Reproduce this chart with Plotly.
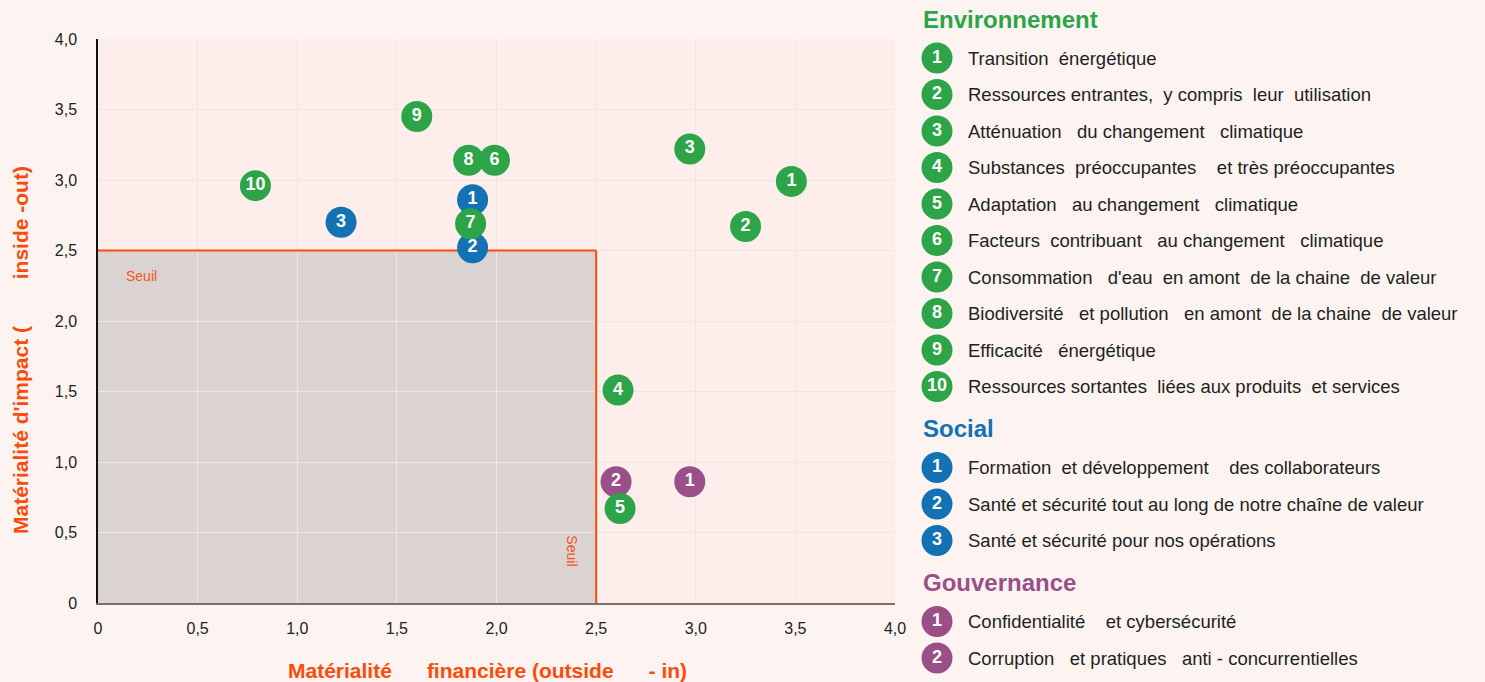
import plotly.graph_objects as go

# --- data ---
seuil = 2.5

env_x = [3.48, 3.25, 2.97, 2.61, 2.62, 1.99, 1.87, 1.86, 1.60, 0.79]
env_y = [2.99, 2.67, 3.22, 1.51, 0.67, 3.14, 2.69, 3.14, 3.45, 2.96]
env_labels = ["Transition  énergétique",
              "Ressources entrantes,  y compris  leur  utilisation",
              "Atténuation   du changement   climatique",
              "Substances  préoccupantes    et très préoccupantes",
              "Adaptation   au changement   climatique",
              "Facteurs  contribuant   au changement   climatique",
              "Consommation   d'eau  en amont  de la chaine  de valeur",
              "Biodiversité   et pollution   en amont  de la chaine  de valeur",
              "Efficacité   énergétique",
              "Ressources sortantes  liées aux produits  et services"]

soc_x = [1.88, 1.88, 1.22]
soc_y = [2.86, 2.52, 2.70]
soc_labels = ["Formation  et développement    des collaborateurs",
              "Santé et sécurité tout au long de notre chaîne de valeur",
              "Santé et sécurité pour nos opérations"]

gov_x = [2.97, 2.60]
gov_y = [0.86, 0.86]
gov_labels = ["Confidentialité    et cybersécurité",
              "Corruption   et pratiques   anti - concurrentielles"]

tick_vals = [0, 0.5, 1, 1.5, 2, 2.5, 3, 3.5, 4]
tick_text = ["0", "0,5", "1,0", "1,5", "2,0", "2,5", "3,0", "3,5", "4,0"]

x_title = "Matérialité      financière (outside      - in)"
y_title = "Matérialité d'impact (        inside -out)"

groups = [
    ("Environnement", "#2ea448", env_x, env_y, env_labels),
    ("Social", "#1272b3", soc_x, soc_y, soc_labels),
    ("Gouvernance", "#9a4f88", gov_x, gov_y, gov_labels),
]

W, H = 1485, 682
FONT = "Liberation Sans, Arial, sans-serif"
ORANGE = "#ff4a0a"
PAGE_BG = "#fdf4f2"

def nb(s):
    # keep the odd spacing of the original labels
    return s.replace(" ", "\u00a0")

fig = go.Figure()

# chart points (social/gouvernance first so green sits on top)
for name, color, xs, ys, labels in [groups[1], groups[2], groups[0]]:
    fig.add_trace(go.Scatter(
        x=xs, y=ys, mode="markers+text",
        text=[str(i + 1) for i in range(len(xs))],
        textposition="middle center",
        textfont=dict(family=FONT, size=18, color="white", weight="bold"),
        marker=dict(size=31, color=color, line=dict(width=0)),
        name=name, showlegend=False, hoverinfo="skip",
    ))

# right-hand legend, drawn in a pixel-like second subplot
annotations = []
row = 19
step, head_gap, group_gap = 36.5, 39, 42
for gi, (name, color, xs, ys, labels) in enumerate(groups):
    annotations.append(dict(
        x=921, y=row, xref="x2", yref="y2", text=name, showarrow=False,
        xanchor="left", yanchor="middle",
        font=dict(family=FONT, size=24, color=color, weight="bold")))
    rows = [row + head_gap + k * step for k in range(len(labels))]
    fig.add_trace(go.Scatter(
        x=[937] * len(labels), y=rows, xaxis="x2", yaxis="y2",
        mode="markers+text",
        text=[str(i + 1) for i in range(len(labels))],
        textposition="middle center",
        textfont=dict(family=FONT, size=18, color="white", weight="bold"),
        marker=dict(size=31, color=color),
        showlegend=False, hoverinfo="skip",
    ))
    for r, lab in zip(rows, labels):
        annotations.append(dict(
            x=966, y=r, xref="x2", yref="y2", text=nb(lab), showarrow=False,
            xanchor="left", yanchor="middle",
            font=dict(family=FONT, size=18.5, color="#231f20")))
    row = rows[-1] + group_gap

# threshold labels
annotations.append(dict(x=0, y=seuil, xref="x", yref="y", text="Seuil",
                        showarrow=False, xanchor="left", yanchor="top",
                        xshift=26, yshift=-15,
                        font=dict(family=FONT, size=14, color="#f4531c")))
annotations.append(dict(x=seuil, y=0, xref="x", yref="y", text="Seuil",
                        showarrow=False, textangle=90, xanchor="right",
                        yanchor="bottom", xshift=-14, yshift=35,
                        font=dict(family=FONT, size=14, color="#f4531c")))

# axis titles
annotations.append(dict(x=0.5, y=(H - 670) / H, xref="x domain", yref="paper",
                        text=nb(x_title), showarrow=False, xshift=-9,
                        xanchor="center", yanchor="middle",
                        font=dict(family=FONT, size=21, color=ORANGE, weight="bold")))
annotations.append(dict(x=20 / W, y=(H - 350) / H, xref="paper", yref="paper",
                        text=nb(y_title), showarrow=False, textangle=-90,
                        xanchor="center", yanchor="middle",
                        font=dict(family=FONT, size=21, color=ORANGE, weight="bold")))

shapes = [
    dict(type="rect", xref="x domain", yref="y domain", x0=0, x1=1, y0=0, y1=1,
         fillcolor="#fdeeeb", line=dict(width=0), layer="below"),
    dict(type="rect", xref="x", yref="y", x0=0, x1=seuil, y0=0, y1=seuil,
         fillcolor="#dbd3d1", line=dict(width=0), layer="below"),
    dict(type="line", xref="x", yref="y", x0=0, x1=seuil, y0=seuil, y1=seuil,
         line=dict(color=ORANGE, width=2), layer="between"),
    dict(type="line", xref="x", yref="y", x0=seuil, x1=seuil, y0=0, y1=seuil,
         line=dict(color=ORANGE, width=2), layer="between"),
]

fig.update_layout(
    width=W, height=H,
    margin=dict(l=0, r=0, t=0, b=0),
    paper_bgcolor=PAGE_BG, plot_bgcolor=PAGE_BG,
    font=dict(family=FONT, size=16, color="#222222"),
    showlegend=False,
    shapes=shapes, annotations=annotations,
    xaxis=dict(domain=[98 / W, 895 / W], range=[0, 4], tickvals=tick_vals,
               ticktext=tick_text, showgrid=True, gridcolor="#f1e5e2",
               zeroline=False, showline=True, linecolor="#7b716f", linewidth=2,
               ticks="outside", ticklen=10, tickcolor="rgba(0,0,0,0)",
               tickfont=dict(size=16, color="#222222"), automargin=False,
               anchor="y", fixedrange=True),
    yaxis=dict(domain=[(H - 603) / H, (H - 39) / H], range=[0, 4],
               tickvals=tick_vals, ticktext=tick_text, showgrid=True,
               gridcolor="#f1e5e2", zeroline=False, showline=True,
               linecolor="#111111", linewidth=1.5,
               ticks="outside", ticklen=16, tickcolor="rgba(0,0,0,0)",
               tickfont=dict(size=16, color="#222222"), automargin=False,
               anchor="x", fixedrange=True),
    xaxis2=dict(domain=[906 / W, 1.0], range=[906, W], visible=False,
                anchor="y2", fixedrange=True),
    yaxis2=dict(domain=[0, 1], range=[H, 0], visible=False,
                anchor="x2", fixedrange=True),
)

fig.write_html(
    "out.html",
    config={"displayModeBar": False},
    post_script="document.body.style.margin='0';"
                "document.body.style.background='" + PAGE_BG + "';",
)
